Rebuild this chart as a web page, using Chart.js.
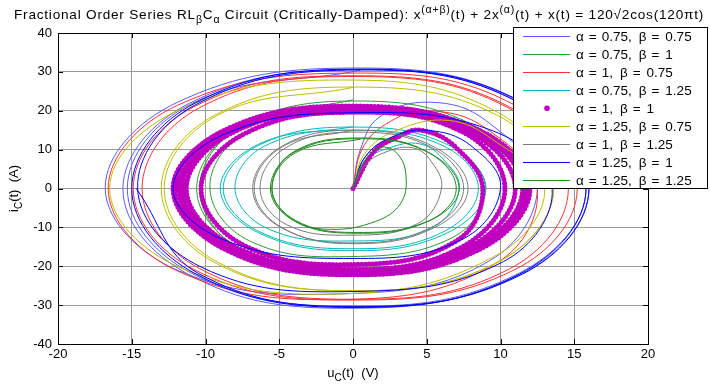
<!DOCTYPE html>
<html lang="en">
<head>
<meta charset="UTF-8">
<title>Fractional Order Series RLC Circuit - Phase Portrait</title>
<script src="https://cdn.jsdelivr.net/npm/chart.js@4.4.0/dist/chart.umd.min.js"></script>
<style>
    body { margin: 0; background: #ffffff; }
    #wrap { width: 710px; height: 385px; }
</style>
</head>
<body>
<div id="wrap"><canvas id="phaseChart" width="710" height="385"></canvas></div>
<script>
// legend labels and colours (same order as the reference legend)
const alphaVals = ['0.75', '0.75', '1', '0.75', '1', '1.25', '1', '1.25', '1.25'];
const betaVals  = ['0.75', '1', '0.75', '1.25', '1', '0.75', '1.25', '1', '1.25'];
const lineColors = ['#5a5aff', '#2f9a2f', '#ff3030', '#00b8b8', '#bf00bf', '#bdbd00', '#7a7a7a', '#0000ff', '#1f8a1f'];

// axis ticks
const uTicks = [-20, -15, -10, -5, 0, 5, 10, 15, 20];
const iTicks = [-40, -30, -20, -10, 0, 10, 20, 30, 40];

// trajectories: [u_C(t) in V, i_C(t) in A]
const pathA075B075 = [[0,0],[0.5,10],[1.8,18.4],[5.2,22.2],[9,17.5],[12.5,1],[9.3,-18.5],[0,-27],[-11.8,-21.2],[-16.8,0],[-12,22],[0.5,31],[11.6,22],[16,0],[11.4,-22],[-0.5,-30.8],[-11.2,-22],[-15.6,0],[-11.1,21.9],[0.5,30.6],[11.4,21.9],[15.8,0],[11.3,-21.7],[0,-30.3],[-11,-21.7],[-15.3,0],[-11,21.7],[0.5,30.4]];
const pathA075B1 = [[0,0],[0.8,8],[2.5,13],[5,14.5],[7,10.5],[9,0],[6.8,-12.5],[0,-17.5],[-7,-13.5],[-9.7,0],[-7.3,14.2],[0,20],[7.9,15.5],[11,0],[7.9,-15.5],[0,-21.5],[-7.6,-15.5],[-10.6,0],[-7.6,16],[0,22.5],[8.2,16.2],[11.5,0],[8.2,-16.2],[0,-22.5],[-7.5,-16.2],[-10.4,0],[-7.5,16.3],[0,22.8]];
const pathA1B075 = [[0,0],[0.6,10],[2.2,16.5],[5,20],[9,15.5],[12.5,0],[9.8,-19],[0,-28.5],[-11.9,-21.2],[-16.6,0],[-11.9,21.4],[0.5,29.7],[11,21.4],[15.2,0],[11,-20.8],[0,-28.7],[-10.8,-20.8],[-14.9,0],[-10.8,21],[0,29],[10.6,21],[14.6,0],[10.6,-20.7],[0,-28.5],[-10.4,-20.6],[-14.3,0],[-10.4,20.8],[0,28.8],[10.5,20.8],[14.5,0]];
const pathA075B125 = [[0,0],[0.8,7],[2.5,10.5],[4.5,11.5],[6,8],[7.2,0],[5.4,-10],[0,-13.5],[-5.8,-10.3],[-8,0],[-6,10.9],[0,15],[6.1,11],[8.5,0],[6.1,-11.2],[0,-15.5],[-6.3,-11.2],[-8.8,0],[-6.3,11.3],[0,15.8],[6.4,11.3],[9,0],[6.4,-11.4],[0,-16],[-6.4,-11.4],[-9,0],[-6.4,11.4],[0,15.9]];
const pathA1B1 = [[0,0],[1.4,9.4],[3,13.2],[4.6,15],[7,10.5],[8.8,-0.4],[7,-13.5],[0.5,-19.5],[-7.3,-14.8],[-10.3,0],[-7.3,14.2],[0,19.6],[7.4,14.6],[10.3,0],[7.4,-15],[0,-20.8],[-8,-15],[-11.3,0],[-8,14.7],[0,20.3],[7.8,14.7],[11,0],[7.8,-15.3],[0,-21.3],[-8.3,-15.4],[-11.8,0],[-8.3,14.9],[0,20.7],[8.1,14.9],[11.5,0],[8.1,-15.6],[0,-21.8],[-8.6,-15.7],[-12.2,0],[-8.6,15.1],[0,21],[8.5,15.1],[12,0],[8.5,-15.8],[0,-22.2],[-8.6,-15.8],[-12.1,0],[-8.6,15.2],[0,21.2],[8.3,15.1],[11.8,0],[8.3,-15.6],[0,-21.6],[-8.2,-15.4],[-11.6,0],[-8.2,14.9],[0,20.6]];
const pathA125B075 = [[0,0],[0.8,9],[3,15],[6.5,17.5],[9.5,12.5],[13,0],[9.8,-17],[0,-27],[-11.8,-20.2],[-16.5,0],[-11.8,20.2],[0,27.9],[9.8,19.6],[13.6,0],[9.8,-19],[0,-26.3],[-9.4,-19],[-13,0],[-9.4,18.8],[0,26.1],[9.8,18.8],[13.6,0],[9.8,-19],[0,-26.3],[-9.2,-18.9],[-12.8,0],[-9.2,18.8],[0,26]];
const pathA1B125 = [[0,0],[0.8,6],[2.3,9.5],[4,10.5],[5.2,7.5],[6,0],[4.4,-9],[0,-12],[-4.5,-9.3],[-6.3,0],[-4.6,10.4],[0,14.5],[5.3,10.6],[7.5,0],[5.3,-10],[0,-14],[-4.9,-10],[-6.8,0],[-4.9,10.7],[0,15],[5.5,10.7],[7.8,0],[5.5,-10.1],[0,-14.2],[-4.8,-10.1],[-6.7,0],[-4.8,10.7],[0,15]];
const pathA125B1 = [[0,0],[0.8,8],[2.5,13],[5,15],[8,11],[10,0],[7.3,-13.3],[0,-18],[-8.7,-13.3],[-12.2,0],[-8.7,14],[0,19.5],[9.5,14.8],[13.5,0],[10.2,-18.8],[0,-26.5],[-10.3,-20.2],[-14.6,0],[-10.7,21.5],[0.5,30.5],[11.3,22],[15.8,0],[11.3,-22],[0,-30.6],[-10.7,-21.9],[-15,0],[-10.7,22],[0.5,30.7],[11.5,22.1],[16,0],[11.5,-22],[0,-30.4],[-10.5,-21.8],[-14.7,0]];
const pathA125B125 = [[0,0],[0.6,6],[1.8,10.5],[3,9],[3.6,3],[3.2,-4],[1.5,-8.5],[-1.5,-10.5],[-4.1,-8],[-5.5,0],[-4,9.5],[0.5,13],[5,9.5],[7,0],[5,-8.6],[0,-11.5],[-4,-8.3],[-5.6,0],[-4,9.3],[0.5,12.8],[5.1,9.3],[7.2,0],[5.1,-8.4],[0,-11.3],[-3.9,-8.2],[-5.5,0],[-3.9,9.2],[0.5,12.7]];

const paths = [pathA075B075, pathA075B1, pathA1B075, pathA075B125, pathA1B1,
               pathA125B075, pathA1B125, pathA125B1, pathA125B125];
const DOTTED = 4; // index of the series drawn with dot markers

const FONT = '"Liberation Sans", Arial, Helvetica, sans-serif';

// text with sub/superscripts: parts = [[text, 'n' | 'sub' | 'sup'], ...]
let baseSize = 13;
function setPartFont(ctx, kind) {
    ctx.font = (kind === 'n' ? baseSize : baseSize - 3) + 'px ' + FONT;
}
function richWidth(ctx, parts, ls) {
    let w = 0;
    parts.forEach(([t, k]) => {
        setPartFont(ctx, k);
        for (const ch of t) w += ctx.measureText(ch).width + (ls || 0);
    });
    return w;
}
function drawRich(ctx, parts, x, y, ls) {
    let cx = x;
    parts.forEach(([t, k]) => {
        setPartFont(ctx, k);
        const dy = k === 'sub' ? 4 : (k === 'sup' ? -6 : 0);
        if (!ls) {
            ctx.fillText(t, cx, y + dy);
            cx += ctx.measureText(t).width;
        } else {
            for (const ch of t) {
                ctx.fillText(ch, cx, y + dy);
                cx += ctx.measureText(ch).width + ls;
            }
        }
    });
}

const titleParts = [
    ['Fractional Order Series RL', 'n'], ['\u03b2', 'sub'], ['C', 'n'], ['\u03b1', 'sub'],
    [' Circuit (Critically-Damped): x', 'n'], ['(\u03b1+\u03b2)', 'sup'],
    ['(t) + 2x', 'n'], ['(\u03b1)', 'sup'], ['(t) + x(t) = 120\u221a2cos(120\u03c0t)', 'n']
];
const xTitleParts = [['u', 'n'], ['C', 'sub'], ['(t)  (V)', 'n']];
const yTitleParts = [['i', 'n'], ['C', 'sub'], ['(t)  (A)', 'n']];

// axes box, inward ticks, titles and the legend, drawn the MATLAB way
const matlabDecor = {
    id: 'matlabDecor',
    afterDraw(chart) {
        const ctx = chart.ctx;
        const a = chart.chartArea;
        const xs = chart.scales.x, ys = chart.scales.y;
        ctx.save();

        // axes box and tick marks
        ctx.strokeStyle = '#000';
        ctx.lineWidth = 1;
        ctx.strokeRect(Math.round(a.left) + 0.5, Math.round(a.top) + 0.5,
                       Math.round(a.right - a.left), Math.round(a.bottom - a.top));
        ctx.beginPath();
        uTicks.forEach(v => {
            const px = Math.round(xs.getPixelForValue(v)) + 0.5;
            ctx.moveTo(px, a.bottom); ctx.lineTo(px, a.bottom - 5);
            ctx.moveTo(px, a.top); ctx.lineTo(px, a.top + 5);
        });
        iTicks.forEach(v => {
            const py = Math.round(ys.getPixelForValue(v)) + 0.5;
            ctx.moveTo(a.left, py); ctx.lineTo(a.left + 5, py);
            ctx.moveTo(a.right, py); ctx.lineTo(a.right - 5, py);
        });
        ctx.stroke();

        // titles (the main title is spread to the reference width)
        ctx.fillStyle = '#000';
        ctx.textAlign = 'left';
        ctx.textBaseline = 'alphabetic';
        baseSize = 13.6;
        const nChars = titleParts.reduce((n, p) => n + [...p[0]].length, 0);
        const ls = Math.max(0, (690 - richWidth(ctx, titleParts, 0)) / nChars);
        drawRich(ctx, titleParts, 14, 19, ls);
        baseSize = 13;
        drawRich(ctx, xTitleParts, 353 - richWidth(ctx, xTitleParts) / 2, 377);
        ctx.save();
        ctx.translate(18, (a.top + a.bottom) / 2);
        ctx.rotate(-Math.PI / 2);
        drawRich(ctx, yTitleParts, -richWidth(ctx, yTitleParts) / 2, 0);
        ctx.restore();

        // legend box
        const bx = 513.5, by = 27.5, bw = 194, bh = 161;
        ctx.fillStyle = '#fff';
        ctx.fillRect(bx, by, bw, bh);
        ctx.strokeStyle = '#000';
        ctx.strokeRect(bx, by, bw, bh);
        ctx.font = '13.5px ' + FONT;
        ctx.textBaseline = 'middle';
        alphaVals.forEach((al, i) => {
            const y = 36 + i * 18.05;
            if (i === DOTTED) {
                ctx.fillStyle = lineColors[i];
                ctx.beginPath();
                ctx.arc(547, y, 2.8, 0, Math.PI * 2);
                ctx.fill();
            } else {
                ctx.strokeStyle = lineColors[i];
                ctx.lineWidth = 1;
                ctx.beginPath();
                ctx.moveTo(523, Math.round(y) + 0.5);
                ctx.lineTo(570, Math.round(y) + 0.5);
                ctx.stroke();
            }
            // label tokens with the wide spacing of the reference
            ctx.fillStyle = '#000';
            const tokens = [['\u03b1', 5], ['=', 5], [al + ',', 7], ['\u03b2', 5], ['=', 6], [betaVals[i], 0]];
            let tx = 576;
            tokens.forEach(([t, gap]) => {
                ctx.fillText(t, tx, y + 1);
                tx += ctx.measureText(t).width + gap;
            });
        });
        ctx.restore();
    }
};

const datasets = paths.map((p, i) => {
    const ds = {
        label: '\u03b1 = ' + alphaVals[i] + ', \u03b2 = ' + betaVals[i],
        data: p,
        showLine: true,
        borderColor: lineColors[i],
        backgroundColor: lineColors[i],
        borderWidth: 1,
        pointRadius: 0,
        tension: 0.4,
        fill: false,
        order: paths.length - i   // later series on top, like MATLAB
    };
    if (i === DOTTED) {
        ds.borderWidth = 5;
        ds.borderDash = [0, 3.6];
        ds.borderCapStyle = 'round';
    }
    return ds;
});

new Chart(document.getElementById('phaseChart'), {
    type: 'scatter',
    data: { datasets: datasets },
    options: {
        responsive: false,
        animation: false,
        devicePixelRatio: 1,
        layout: { padding: { left: 30, right: 62, top: 33, bottom: 0 } },
        plugins: {
            legend: { display: false },
            title: { display: false },
            tooltip: { enabled: false }
        },
        scales: {
            x: {
                type: 'linear',
                min: -20, max: 20,
                afterBuildTicks: s => { s.ticks = uTicks.map(v => ({ value: v })); },
                ticks: { color: '#000', font: { family: FONT, size: 13 }, padding: 3, maxRotation: 0 },
                grid: { color: '#9a9a9a', drawTicks: false },
                border: { display: false },
                afterFit: s => { s.height = 41; }
            },
            y: {
                type: 'linear',
                min: -40, max: 40,
                afterBuildTicks: s => { s.ticks = iTicks.map(v => ({ value: v })); },
                ticks: { color: '#000', font: { family: FONT, size: 13 }, padding: 6 },
                grid: { color: '#9a9a9a', drawTicks: false },
                border: { display: false },
                afterFit: s => { s.width = 28; }
            }
        }
    },
    plugins: [matlabDecor]
});
</script>
</body>
</html>
